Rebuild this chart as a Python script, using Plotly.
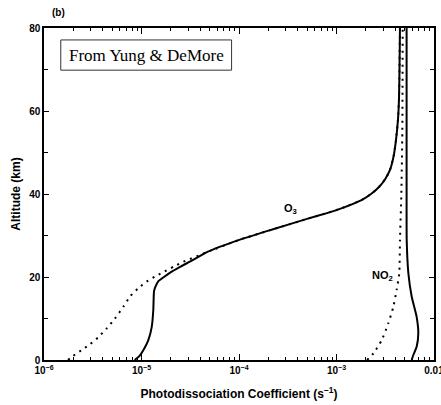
import plotly.graph_objects as go

# ---- data (altitude in km, J in s^-1) ----
alt_o3_solid = [0, 1, 2.4, 4.8, 8, 12, 16.5, 17.5, 18.9, 20, 21, 22.5, 24, 26, 29,
                31.5, 34, 35.4, 36.6, 38.6, 40, 41.7, 43.5, 45.8, 49, 53,
                58, 63, 70, 80]
j_o3_solid = [8.51e-6, 9.55e-6, 1.047e-5, 1.175e-5, 1.274e-5, 1.321e-5, 1.343e-5,
              1.380e-5, 1.479e-5, 1.698e-5, 1.950e-5, 2.512e-5, 3.311e-5, 4.69e-5,
              1.023e-4, 2.234e-4, 4.98e-4, 7.99e-4, 1.138e-3, 1.827e-3, 2.259e-3,
              2.729e-3, 3.141e-3, 3.537e-3, 3.845e-3, 4.074e-3, 4.274e-3, 4.375e-3,
              4.426e-3, 4.477e-3]

alt_o3_dot = [0, 1, 2.4, 3.8, 5.5, 7.6, 10, 12.8, 15.3, 17.3, 18.9, 20.1, 21, 22.5,
              23.7, 25.3, 26, 29, 31.5, 34, 35.4, 36.6, 38.6, 40, 41.7, 43.5,
              45.8, 49, 53, 58, 63, 70, 80]
j_o3_dot = [1.762e-6, 1.995e-6, 2.438e-6, 2.965e-6, 3.606e-6, 4.395e-6, 5.346e-6,
            6.501e-6, 7.621e-6, 9.268e-6, 1.130e-5, 1.374e-5, 1.622e-5, 2.138e-5,
            2.692e-5, 3.981e-5, 4.69e-5, 1.023e-4, 2.234e-4, 4.98e-4, 7.99e-4,
            1.138e-3, 1.827e-3, 2.259e-3, 2.729e-3, 3.141e-3, 3.537e-3, 3.845e-3,
            4.074e-3, 4.274e-3, 4.375e-3, 4.426e-3, 4.477e-3]

alt_no2_solid = [0, 1.2, 3.2, 6.4, 10.4, 15.3, 20.9, 28.9, 40, 60, 80]
j_no2_solid = [5.902e-3, 6.138e-3, 6.637e-3, 6.902e-3, 6.637e-3, 5.902e-3, 5.458e-3,
               5.248e-3, 5.236e-3, 5.236e-3, 5.236e-3]

alt_no2_dot = [0, 1.6, 4.8, 8.8, 12.8, 16.9, 20.9, 28.9, 40, 55, 80]
j_no2_dot = [2.056e-3, 2.399e-3, 2.911e-3, 3.396e-3, 3.828e-3, 4.140e-3, 4.406e-3,
             4.477e-3, 4.624e-3, 4.732e-3, 4.775e-3]

x_tick_vals = [1e-6, 1e-5, 1e-4, 1e-3, 1e-2]
x_tick_text = ["<b>10<sup>−6</sup></b>", "<b>10<sup>−5</sup></b>", "<b>10<sup>−4</sup></b>",
               "<b>10<sup>−3</sup></b>", "<b>0.01</b>"]
y_tick_vals = [0, 20, 40, 60, 80]
y_tick_text = ["<b>0</b>", "<b>20</b>", "<b>40</b>", "<b>60</b>", "<b>80</b>"]
y_minor_vals = [10, 30, 50, 70]

x_minor_vals = [k * 10.0 ** e for e in range(-6, -2) for k in range(2, 10)]

SANS = "Liberation Sans, Arial, sans-serif"
DOTS = "2px,5px"

fig = go.Figure()
fig.add_trace(go.Scatter(x=j_o3_dot, y=alt_o3_dot, mode="lines",
                         line=dict(color="black", width=2, dash=DOTS,
                                   shape="spline", smoothing=0.5),
                         showlegend=False, hoverinfo="skip"))
fig.add_trace(go.Scatter(x=j_o3_solid, y=alt_o3_solid, mode="lines",
                         line=dict(color="black", width=2,
                                   shape="spline", smoothing=0.5),
                         showlegend=False, hoverinfo="skip"))
fig.add_trace(go.Scatter(x=j_no2_dot, y=alt_no2_dot, mode="lines",
                         line=dict(color="black", width=2, dash=DOTS,
                                   shape="spline", smoothing=0.5),
                         showlegend=False, hoverinfo="skip"))
fig.add_trace(go.Scatter(x=j_no2_solid, y=alt_no2_solid, mode="lines",
                         line=dict(color="black", width=2,
                                   shape="spline", smoothing=0.5),
                         showlegend=False, hoverinfo="skip"))

fig.update_layout(
    width=441, height=405,
    margin=dict(l=44, r=7, t=28, b=45, autoexpand=False),
    paper_bgcolor="white", plot_bgcolor="white",
    font=dict(family=SANS, size=10, color="black"),
    xaxis=dict(type="log", range=[-6, -2], tickvals=x_tick_vals, ticktext=x_tick_text,
               ticks="inside", ticklen=6, tickwidth=1, tickcolor="black",
               minor=dict(tickvals=x_minor_vals, ticks="inside", ticklen=3,
                          tickwidth=1, tickcolor="black", showgrid=False),
               showline=True, linecolor="black", linewidth=1.5, mirror="allticks",
               showgrid=False, zeroline=False, ticklabeloverflow="allow",
               automargin=False,
               tickfont=dict(family=SANS, size=10),
               title=dict(text="<b>Photodissociation Coefficient (s<sup>−1</sup>)</b>",
                          font=dict(family=SANS, size=12), standoff=15)),
    yaxis=dict(range=[0, 80], tickvals=y_tick_vals, ticktext=y_tick_text,
               ticks="inside", ticklen=5, tickwidth=1, tickcolor="black",
               minor=dict(tickvals=y_minor_vals, ticks="inside", ticklen=4,
                          tickwidth=1, tickcolor="black", showgrid=False),
               showline=True, linecolor="black", linewidth=1.5, mirror="allticks",
               showgrid=False, zeroline=False, automargin=False,
               tickfont=dict(family=SANS, size=10),
               title=dict(text="<b>Altitude (km)</b>",
                          font=dict(family=SANS, size=12), standoff=6)),
)

# "From Yung & DeMore" box
fig.add_shape(type="rect", xref="paper", yref="paper",
              x0=0.043, x1=0.481, y0=0.873, y1=0.964,
              line=dict(color="#333333", width=1), fillcolor="white")
fig.add_annotation(text="From Yung &amp; DeMore", xref="paper", yref="paper",
                   x=0.262, y=0.918, showarrow=False, xanchor="center", yanchor="middle",
                   font=dict(family="Liberation Serif, Times New Roman, serif", size=17,
                             color="black"))
# panel tag
fig.add_annotation(text="<b>(b)</b>", xref="paper", yref="paper",
                   x=0.015, y=1.0, yshift=16, showarrow=False, xanchor="left",
                   yanchor="middle", font=dict(family=SANS, size=10))
# curve labels
fig.add_annotation(text="<b>O<sub>3</sub></b>", xref="paper", yref="paper",
                   x=0.631, y=0.455, showarrow=False, xanchor="center",
                   yanchor="middle", font=dict(family=SANS, size=11))
fig.add_annotation(text="<b>NO<sub>2</sub></b>", xref="paper", yref="paper",
                   x=0.867, y=0.252, showarrow=False, xanchor="center",
                   yanchor="middle", font=dict(family=SANS, size=11))

fig.write_html("out.html")
